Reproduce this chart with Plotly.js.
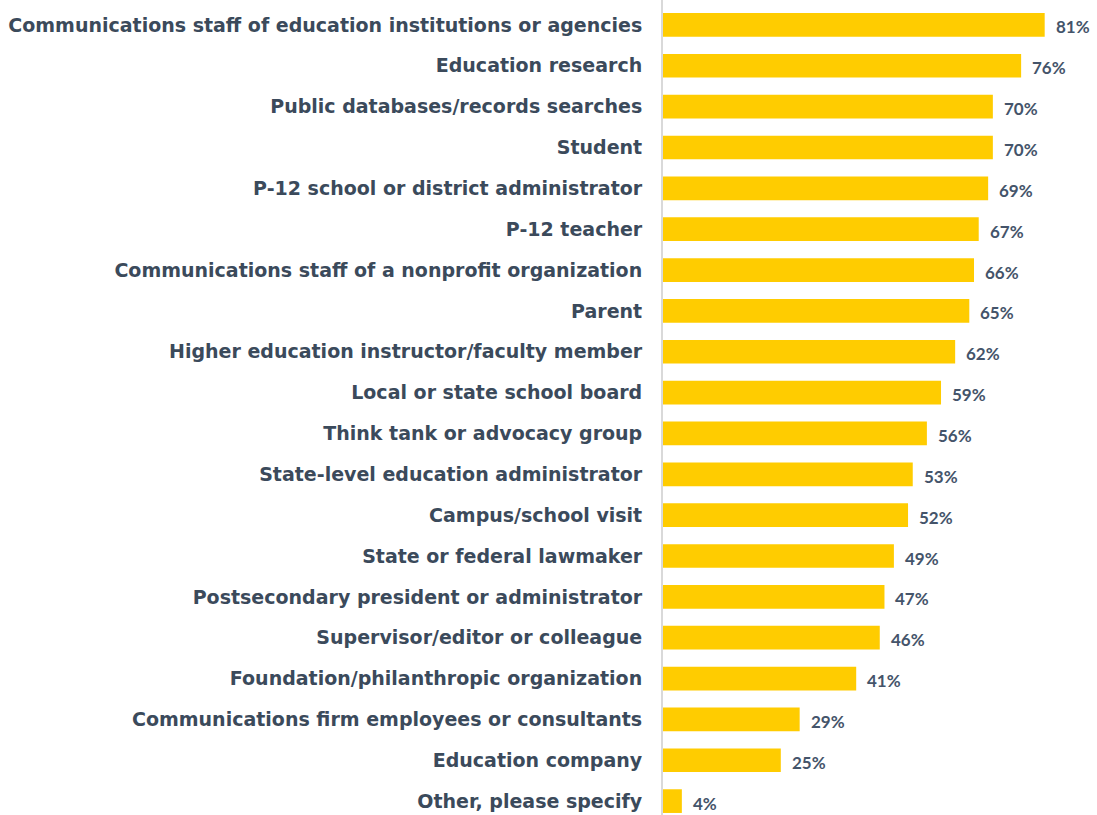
<!DOCTYPE html>
<html>
<head>
<meta charset="utf-8">
<script src="https://cdn.plot.ly/plotly-3.0.1.min.js"></script>
<style>html,body{margin:0;padding:0;background:#fff;}#chart{width:1097px;height:815px;}</style>
</head>
<body>
<div id="chart"></div>
<script>
const categories = [
  "Communications staff of education institutions or agencies",
  "Education research",
  "Public databases/records searches",
  "Student",
  "P-12 school or district administrator",
  "P-12 teacher",
  "Communications staff of a nonprofit organization",
  "Parent",
  "Higher education instructor/faculty member",
  "Local or state school board",
  "Think tank or advocacy group",
  "State-level education administrator",
  "Campus/school visit",
  "State or federal lawmaker",
  "Postsecondary president or administrator",
  "Supervisor/editor or colleague",
  "Foundation/philanthropic organization",
  "Communications firm employees or consultants",
  "Education company",
  "Other, please specify"
];
const values = [81, 76, 70, 70, 69, 67, 66, 65, 62, 59, 56, 53, 52, 49, 47, 46, 41, 29, 25, 4];
const valueLabels = ["81%","76%","70%","70%","69%","67%","66%","65%","62%","59%","56%","53%","52%","49%","47%","46%","41%","29%","25%","4%"];

const trace = {
  type: 'bar',
  orientation: 'h',
  x: values,
  y: categories,
  marker: {color: '#FFCC00'},
  width: 0.58,
  hoverinfo: 'none'
};

const annotations = values.map((v, i) => ({
  x: v, y: categories[i], xref: 'x', yref: 'y',
  text: valueLabels[i], showarrow: false,
  xanchor: 'left', yanchor: 'middle', xshift: 9, yshift: -2,
  font: {family: 'Lato, "Open Sans", sans-serif', size: 17, color: '#44546A', weight: 'bold'}
}));

const layout = {
  width: 1097, height: 815,
  margin: {l: 663, r: 0, t: 0, b: 0},
  paper_bgcolor: '#ffffff', plot_bgcolor: '#ffffff',
  showlegend: false,
  xaxis: {range: [0, 92.1], showgrid: false, zeroline: false, showticklabels: false, ticks: '', showline: false, fixedrange: true},
  yaxis: {
    type: 'category',
    categoryorder: 'array', categoryarray: categories,
    range: [19.34, -0.61],
    showline: true, linecolor: '#D9D9D9', linewidth: 2,
    ticks: '', showgrid: false, zeroline: false,
    ticklabelstandoff: 15,
    tickfont: {family: '"DejaVu Sans", sans-serif', size: 19, color: '#3B4A5B', weight: 'bold'}
  },
  annotations: annotations
};

Plotly.newPlot('chart', [trace], layout, {displayModeBar: false, staticPlot: true});
</script>
</body>
</html>
